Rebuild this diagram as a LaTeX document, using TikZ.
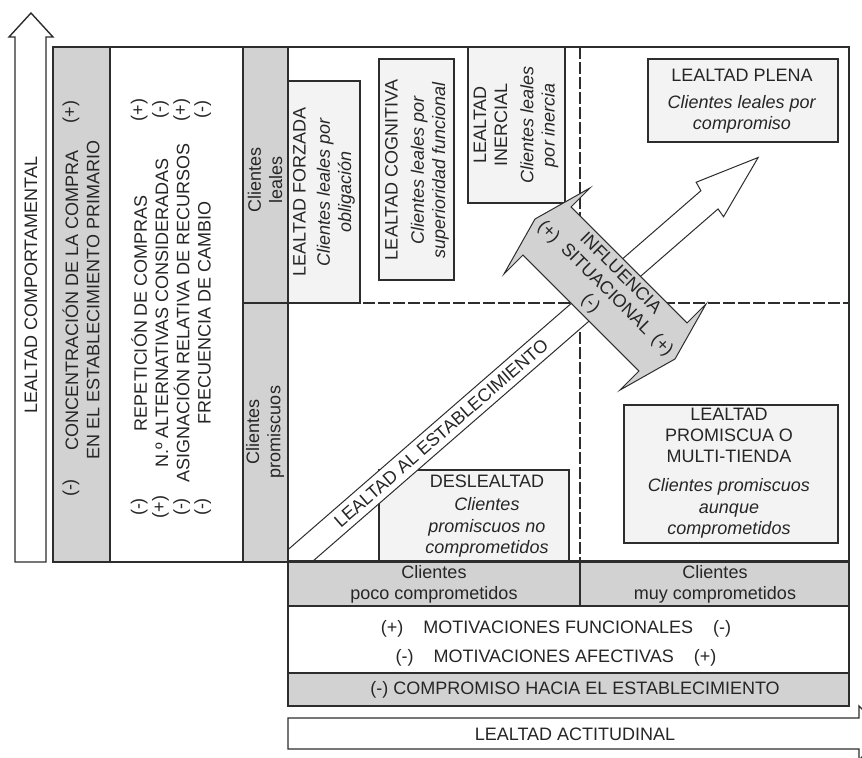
\documentclass[tikz,border=0pt]{standalone}
\usepackage{fontspec}
\setmainfont{Liberation Sans}
\usepackage{tikz}
\definecolor{cellgray}{RGB}{210,210,210}
\definecolor{dotfill}{RGB}{243,243,243}
\definecolor{edge}{RGB}{45,45,45}

\begin{document}
\begin{tikzpicture}[x=0.5pt,y=-0.5pt,
  every node/.style={font=\fontsize{9}{10.6}\selectfont, text=black!85, inner sep=0pt},
  frame/.style={draw=edge, line width=0.8pt},
  graycell/.style={frame, fill=cellgray},
  dotcell/.style={draw=edge, line width=0.7pt, fill=dotfill},
  split/.style={draw=edge, line width=0.7pt, dash pattern=on 6pt off 1.5pt},
  bigarrow/.style={draw=edge, line width=0.5pt}]
\useasboundingbox (0,0) rectangle (862,758);
\clip (0,0) rectangle (862,758);

% vertical arrow
\draw[bigarrow, line width=0.7pt, fill=white] (15,562) -- (15,37) -- (9,37) -- (31,13) -- (53,37) -- (46,37) -- (46,562) -- cycle;
\path (31,285) node[rotate=90] (comport) {LEALTAD COMPORTAMENTAL};

% left columns
\draw[graycell] (53,47) rectangle (110,562);
\draw[frame, fill=white] (110,47) rectangle (243,562);
\draw[graycell] (243,47) rectangle (288,562);
\draw[frame] (243,303) -- (288,303);

\path (81,300) node[rotate=90, align=center] (conc) {CONCENTRACIÓN DE LA COMPRA\\EN EL ESTABLECIMIENTO PRIMARIO};
\path (71,488) node[rotate=90] (concmin) {(-)};
\path (71,112) node[rotate=90] (concplus) {(+)};

\path (171,313) node[rotate=90, align=center] (indic) {REPETICIÓN DE COMPRAS\\N.º ALTERNATIVAS CONSIDERADAS\\ASIGNACIÓN RELATIVA DE RECURSOS\\FRECUENCIA DE CAMBIO};
\path (171,110) node[rotate=90, align=center] (indictop) {(+)\\(-)\\(+)\\(-)};
\path (171,507) node[rotate=90, align=center] (indicbot) {(-)\\(+)\\(-)\\(-)};

\path (265,180) node[rotate=90, align=center] (leales) {Clientes\\leales};
\path (265,432) node[rotate=90, align=center] (promis) {Clientes\\promiscuos};

% matrix
\draw[frame, fill=white] (288,47) rectangle (849,561);
\draw[dotcell] (288,81) rectangle (360,303);
\draw[dotcell] (379,59) rectangle (454,280);
\draw[dotcell] (468,47) rectangle (565,203);
\draw[dotcell] (648,59) rectangle (838,142);
\draw[dotcell] (379,470) rectangle (569,561);
\draw[dotcell] (624,405) rectangle (838,543);
\draw[split] (580,47) -- (580,561);
\draw[split] (288,303) -- (849,303);

\path (324,192) node[rotate=90, align=center] (forzada) {LEALTAD FORZADA\\[1.5pt]\textit{Clientes leales por}\\\textit{obligación}};
\path (417,170) node[rotate=90, align=center] (cognit) {LEALTAD COGNITIVA\\[2.5pt]\textit{Clientes leales por}\\\textit{superioridad funcional}};
\path (516,125) node[rotate=90, align=center] (inerc) {LEALTAD\\INERCIAL\\[2.5pt]\textit{Clientes leales}\\\textit{por inercia}};
\path (742,101) node[align=center] (plena) {LEALTAD PLENA\\[3pt]\textit{Clientes leales por}\\\textit{compromiso}};
\path (487,516) node[align=center] (deslea) {DESLEALTAD\\[1pt]\textit{Clientes}\\\textit{promiscuos no}\\\textit{comprometidos}};
\path (729,473) node[align=center] (multi) {LEALTAD\\PROMISCUA O\\MULTI-TIENDA\\[4pt]\textit{Clientes promiscuos}\\\textit{aunque}\\\textit{comprometidos}};

% diagonal band
\begin{scope}
\clip (288,47) rectangle (849,561);
\begin{scope}[shift={(294,561)}, rotate=41]
\draw[bigarrow, fill=white] (-40,-12.5) -- (550,-12.5) -- (552,-22) -- (615,0) -- (550,22) -- (551,12.5) -- (-40,12.5) -- cycle;
\path (195,0) node[rotate=41] (establ) {LEALTAD AL ESTABLECIMIENTO};
\end{scope}
\end{scope}

% situational double arrow
\begin{scope}[shift={(605,289)}, rotate=-45]
\draw[bigarrow, fill=cellgray] (-82,-34) -- (82,-34) -- (82,-61) -- (99,0) -- (82,61) -- (82,34) -- (-82,34) -- (-82,61) -- (-99,0) -- (-82,-61) -- cycle;
\path (0,0) node[rotate=-45, align=center] (influ) {INFLUENCIA\\(+)\hspace{5pt}SITUACIONAL\hspace{4pt}(+)\\(-)};
\end{scope}

\draw[frame] (288,47) rectangle (849,561);

% bottom rows
\draw[graycell] (288,562) rectangle (580,606);
\draw[graycell] (580,562) rectangle (849,606);
\draw[frame, fill=white] (288,606) rectangle (849,673);
\draw[graycell] (288,673) rectangle (849,706);

\path (434,584) node[align=center] (poco) {Clientes\\poco comprometidos};
\path (715,584) node[align=center] (muy) {Clientes\\muy comprometidos};
\path (556,629) node (funcion) {(+)\hspace{10pt}MOTIVACIONES FUNCIONALES\hspace{10pt}(-)};
\path (556,658) node (afect) {(-)\hspace{10pt}MOTIVACIONES AFECTIVAS\hspace{10pt}(+)};
\path (575,690) node (compro) {(-) COMPROMISO HACIA EL ESTABLECIMIENTO};

% horizontal arrow
\draw[bigarrow, line width=0.7pt, fill=white] (288,718) -- (859,718) -- (859,706) -- (886,733) -- (859,760) -- (859,749) -- (288,749) -- cycle;
\path (575,734) node (actitud) {LEALTAD ACTITUDINAL};
\end{tikzpicture}
\end{document}
